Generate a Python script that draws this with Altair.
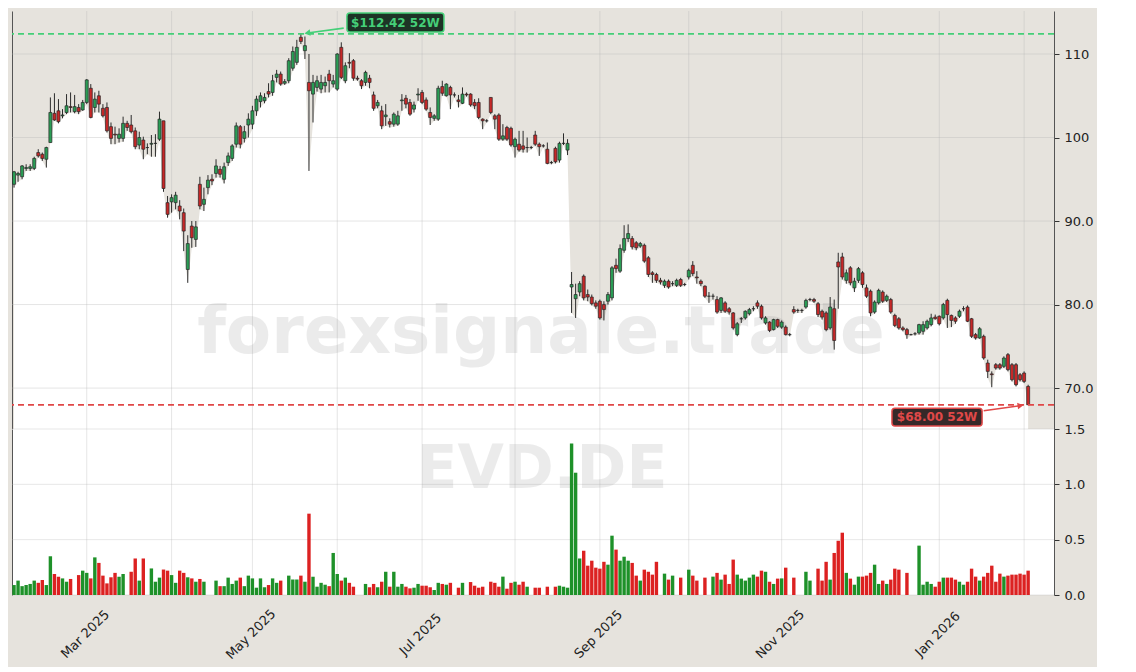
import altair as alt
import pandas as pd

# ---------------- data ----------------
OPEN = [
    94.4, 95.5, 95.3, 96.3, 96.3, 96.3, 98.2, 98.0, 97.4, 99.4,
    102.9, 103.2, 102.6, 103.0, 103.7, 103.1, 103.6, 103.3, 104.2, 105.9,
    103.6, 105.0, 103.5, 103.6, 101.3, 100.4, 99.9, 99.9, 101.7, 101.5,
    100.8, 99.1, 99.7, 98.8, 99.2, 99.3, 99.8, 102.0, 92.2, 92.3,
    92.2, 91.8, 91.0, 84.2, 89.4, 87.8, 94.4, 92.0, 94.0, 95.0,
    95.7, 96.2, 95.0, 97.0, 97.5, 99.2, 101.3, 99.9, 101.5, 101.6,
    103.2, 104.3, 104.4, 105.5, 105.4, 107.2, 107.6, 106.5, 106.8, 108.3,
    109.0, 112.0, 110.4, 106.6, 105.2, 106.0, 105.8, 106.2, 107.6, 106.4,
    105.8, 110.8, 106.8, 109.0, 109.2, 107.1, 106.8, 106.6, 107.1, 105.1,
    103.8, 103.2, 102.5, 101.9, 101.6, 101.6, 104.4, 104.7, 104.2, 103.4,
    105.1, 105.4, 104.5, 103.0, 102.3, 102.2, 106.1, 105.0, 106.0, 105.1,
    104.5, 104.1, 105.2, 105.2, 104.2, 104.2, 102.2, 102.0, 104.8, 102.6,
    102.7, 99.8, 101.2, 101.1, 98.9, 99.2, 99.0, 98.8, 98.8, 100.3,
    99.2, 99.0, 98.6, 97.0, 98.7, 97.3, 99.3, 98.5, 82.1, 80.7,
    81.5, 83.4, 81.2, 80.9, 80.2, 80.4, 80.0, 80.4, 80.8, 84.7,
    84.0, 86.5, 87.9, 87.9, 87.4, 87.0, 87.1, 85.6, 83.8, 83.6,
    82.9, 82.3, 82.8, 82.5, 82.3, 83.0, 82.4, 83.3, 84.7, 83.3,
    82.8, 82.2, 81.0, 81.0, 80.6, 79.3, 80.2, 79.5, 79.0, 76.4,
    78.3, 78.4, 78.9, 79.5, 80.2, 79.8, 77.8, 77.9, 77.0, 78.2,
    77.3, 77.3, 76.4, 79.4, 79.3, 79.3, 79.7, 80.6, 80.6, 80.1,
    79.2, 79.0, 77.2, 79.5, 85.1, 85.7, 82.9, 84.4, 82.0, 82.9,
    83.8, 82.0, 81.6, 79.1, 80.2, 81.5, 80.5, 80.6, 78.7, 78.3,
    77.2, 77.0, 76.4, 76.5, 76.6, 76.8, 77.2, 77.6, 78.5, 78.6,
    78.4, 80.5, 78.7, 78.4, 78.6, 79.5, 79.7, 78.3, 76.4, 76.0,
    76.2, 73.0, 71.7, 72.8, 72.8, 72.6, 74.0, 72.8, 72.8, 71.6,
    71.8, 70.2,
]
HIGH = [
    96.0, 95.9, 96.7, 96.8, 96.8, 97.7, 98.6, 98.2, 98.9, 104.8,
    105.3, 104.6, 103.4, 105.2, 105.4, 105.1, 104.0, 104.5, 107.0, 106.4,
    105.4, 105.6, 104.0, 104.2, 101.8, 101.3, 101.1, 102.5, 102.0, 102.7,
    101.2, 100.7, 100.1, 99.3, 100.3, 100.4, 103.1, 102.0, 93.0, 93.2,
    93.5, 92.5, 91.5, 88.3, 90.0, 90.0, 95.3, 94.0, 95.5, 95.6,
    97.4, 96.6, 97.0, 98.2, 99.2, 101.8, 101.5, 101.4, 102.9, 103.8,
    105.0, 105.4, 105.3, 106.5, 107.5, 108.1, 107.9, 107.0, 109.5, 110.9,
    111.7, 112.42, 112.1, 110.0, 107.5, 107.4, 107.5, 107.3, 108.1, 107.5,
    110.1, 111.4, 109.0, 110.1, 109.4, 107.4, 107.0, 108.0, 107.5, 105.5,
    104.5, 103.8, 104.0, 102.3, 103.0, 103.2, 105.2, 105.1, 104.6, 104.3,
    105.9, 105.7, 104.8, 103.6, 102.8, 106.2, 106.8, 106.5, 106.2, 105.4,
    105.1, 106.0, 105.4, 105.3, 104.6, 104.7, 102.3, 102.2, 104.8, 102.8,
    102.9, 101.6, 101.4, 101.3, 100.0, 100.8, 100.8, 100.0, 99.0, 100.8,
    99.4, 99.2, 99.4, 97.2, 98.9, 99.5, 100.5, 99.8, 83.9, 82.5,
    82.8, 83.6, 81.8, 81.2, 80.5, 80.6, 80.4, 81.5, 84.6, 85.5,
    87.2, 89.5, 89.6, 88.2, 87.6, 87.5, 87.3, 85.8, 84.0, 83.8,
    83.2, 83.0, 83.0, 82.8, 83.1, 83.2, 82.6, 84.3, 85.2, 84.0,
    83.0, 82.3, 81.5, 81.3, 81.0, 80.9, 80.4, 79.7, 79.1, 77.9,
    78.5, 79.3, 79.6, 79.8, 80.5, 80.0, 78.6, 78.0, 78.3, 78.3,
    78.1, 77.5, 76.6, 79.8, 79.5, 79.5, 80.7, 80.8, 80.8, 80.3,
    79.4, 79.2, 80.9, 80.6, 86.2, 86.2, 84.2, 84.6, 83.2, 84.5,
    84.0, 82.4, 81.8, 80.5, 81.9, 81.7, 81.2, 80.8, 78.9, 78.5,
    77.4, 77.2, 76.5, 76.7, 77.7, 78.0, 78.2, 78.9, 78.8, 78.7,
    80.2, 80.7, 78.8, 78.6, 79.4, 79.8, 79.9, 78.4, 76.6, 77.3,
    76.4, 73.4, 72.0, 73.0, 73.0, 73.8, 74.2, 73.0, 73.0, 71.8,
    72.0, 70.4,
]
LOW = [
    94.0, 94.7, 95.0, 96.0, 96.0, 96.1, 97.6, 97.2, 96.4, 99.4,
    102.0, 101.7, 102.3, 102.8, 103.0, 102.9, 102.8, 103.2, 104.0, 102.3,
    103.0, 103.0, 102.4, 100.6, 99.2, 99.2, 99.4, 99.5, 100.8, 100.5,
    98.6, 98.6, 97.4, 98.0, 97.7, 97.7, 99.6, 93.5, 90.4, 91.0,
    91.4, 90.2, 86.4, 82.6, 86.8, 86.9, 91.4, 91.2, 93.2, 94.3,
    95.2, 95.2, 94.5, 96.6, 97.2, 98.8, 98.7, 99.4, 100.0, 101.0,
    102.6, 103.6, 104.1, 104.8, 105.0, 106.6, 106.2, 106.3, 106.5, 108.0,
    108.7, 111.2, 109.4, 96.0, 101.8, 105.5, 105.3, 105.4, 105.4, 106.0,
    105.6, 107.0, 106.5, 108.3, 106.8, 106.8, 105.8, 106.2, 105.9, 103.2,
    103.5, 101.0, 101.4, 101.2, 101.3, 101.4, 103.2, 103.5, 102.6, 103.0,
    104.4, 104.0, 103.2, 101.5, 102.0, 102.0, 105.0, 104.9, 103.4, 104.8,
    103.6, 104.0, 104.9, 103.7, 103.4, 102.2, 101.0, 101.8, 102.8, 101.0,
    99.6, 99.6, 99.6, 98.9, 97.6, 98.3, 98.2, 98.2, 98.6, 99.0,
    97.8, 98.8, 96.8, 96.8, 96.9, 97.0, 99.1, 97.9, 79.0, 78.4,
    81.0, 80.5, 80.4, 79.9, 79.5, 78.2, 78.1, 80.0, 80.5, 83.8,
    83.8, 86.2, 87.5, 86.6, 86.5, 86.8, 85.0, 83.3, 82.6, 82.6,
    82.4, 82.0, 81.9, 82.2, 82.1, 82.1, 82.2, 83.0, 83.4, 82.5,
    82.2, 80.8, 80.2, 80.6, 78.9, 79.0, 79.0, 78.8, 77.0, 76.2,
    77.8, 78.2, 78.7, 79.2, 79.5, 78.2, 77.6, 76.7, 76.9, 77.2,
    77.1, 76.3, 76.2, 78.9, 79.0, 79.0, 79.5, 80.4, 80.2, 78.5,
    78.2, 76.8, 77.0, 74.6, 79.5, 83.0, 82.5, 82.3, 81.5, 82.6,
    82.0, 80.8, 78.6, 78.9, 80.0, 80.2, 80.3, 78.9, 77.3, 77.0,
    76.8, 75.9, 76.3, 76.3, 76.4, 76.4, 77.0, 77.4, 78.2, 77.5,
    78.2, 77.2, 77.3, 77.7, 78.4, 79.2, 77.9, 76.0, 75.8, 75.9,
    73.4, 71.2, 70.1, 72.2, 72.2, 72.4, 72.0, 70.8, 70.2, 70.8,
    70.6, 68.0,
]
CLOSE = [
    95.9, 95.7, 96.6, 96.4, 96.5, 97.5, 97.8, 97.5, 98.8, 103.0,
    102.1, 101.9, 102.7, 103.8, 103.6, 103.7, 103.1, 104.2, 106.9, 102.4,
    104.6, 104.0, 102.6, 100.8, 99.9, 100.3, 100.4, 101.7, 101.2, 100.7,
    98.9, 100.0, 98.6, 98.8, 99.3, 99.3, 102.2, 93.9, 90.8, 92.8,
    93.1, 91.2, 88.8, 87.3, 88.0, 89.3, 91.8, 92.6, 94.9, 94.8,
    96.6, 95.6, 96.5, 97.8, 99.0, 101.4, 99.2, 100.7, 102.2, 103.2,
    104.6, 105.0, 104.8, 105.2, 106.8, 107.6, 106.4, 106.7, 109.2, 110.3,
    110.8, 111.5, 111.0, 105.6, 106.6, 106.8, 106.6, 106.6, 106.8, 106.8,
    110.0, 107.2, 108.6, 108.9, 107.1, 107.0, 106.2, 107.8, 106.6, 103.5,
    104.2, 101.4, 102.7, 101.6, 102.8, 102.6, 104.5, 104.0, 102.8, 103.9,
    105.2, 104.2, 103.4, 102.4, 102.6, 105.9, 105.3, 106.4, 105.1, 105.1,
    104.3, 105.2, 105.1, 103.9, 103.8, 102.4, 102.0, 102.0, 103.0, 102.2,
    99.8, 100.2, 99.8, 99.1, 99.8, 98.5, 98.6, 98.8, 98.8, 99.2,
    98.9, 99.0, 96.9, 97.0, 97.1, 99.3, 99.3, 99.3, 82.4, 81.2,
    82.5, 80.8, 80.9, 80.1, 79.8, 78.4, 79.4, 81.2, 84.4, 84.3,
    86.7, 87.9, 88.5, 86.9, 86.8, 87.3, 85.2, 83.6, 83.6, 82.9,
    82.7, 82.8, 82.1, 82.5, 82.9, 82.3, 82.4, 84.1, 83.7, 83.2,
    82.5, 81.0, 81.0, 81.0, 79.1, 80.8, 79.2, 79.1, 77.2, 77.7,
    78.3, 79.2, 79.4, 79.5, 79.8, 78.4, 78.4, 76.9, 78.2, 77.4,
    77.9, 76.4, 76.4, 79.1, 79.3, 79.3, 80.5, 80.6, 80.4, 78.8,
    78.5, 77.0, 79.7, 75.7, 84.5, 83.3, 83.8, 82.6, 82.8, 84.3,
    82.4, 81.0, 79.0, 80.3, 81.7, 80.4, 81.0, 79.1, 77.5, 77.2,
    77.0, 76.4, 76.4, 76.5, 77.6, 77.6, 78.0, 78.4, 78.3, 77.7,
    80.0, 78.8, 78.1, 78.0, 79.2, 79.5, 78.0, 76.2, 76.0, 77.1,
    73.6, 72.0, 71.6, 72.4, 72.4, 73.6, 72.2, 71.0, 70.4, 71.0,
    70.8, 68.0,
]
VOLUME_M = [
    0.09, 0.13, 0.08, 0.09, 0.10, 0.13, 0.11, 0.135, 0.09, 0.35,
    0.19, 0.165, 0.15, 0.12, 0.145, 0.0, 0.18, 0.22, 0.20, 0.15,
    0.34, 0.29, 0.175, 0.105, 0.16, 0.20, 0.165, 0.19, 0.0, 0.21,
    0.33, 0.13, 0.33, 0.0, 0.24, 0.12, 0.157, 0.23, 0.22, 0.18,
    0.11, 0.22, 0.20, 0.16, 0.15, 0.12, 0.145, 0.12, 0.0, 0.0,
    0.13, 0.08, 0.08, 0.157, 0.10, 0.13, 0.157, 0.08, 0.175, 0.15,
    0.066, 0.15, 0.07, 0.09, 0.15, 0.11, 0.13, 0.0, 0.175, 0.14,
    0.14, 0.175, 0.12, 0.735, 0.165, 0.075, 0.11, 0.093, 0.08, 0.38,
    0.19, 0.13, 0.157, 0.11, 0.075, 0.0, 0.0, 0.10, 0.07, 0.10,
    0.07, 0.12, 0.21, 0.075, 0.21, 0.075, 0.10, 0.075, 0.06, 0.066,
    0.10, 0.084, 0.084, 0.07, 0.045, 0.11, 0.10, 0.093, 0.11, 0.0,
    0.066, 0.11, 0.0, 0.117, 0.084, 0.066, 0.075, 0.0, 0.12, 0.11,
    0.075, 0.166, 0.057, 0.11, 0.12, 0.093, 0.12, 0.075, 0.0, 0.066,
    0.066, 0.0, 0.075, 0.0, 0.075, 0.084, 0.075, 0.066, 1.37, 1.105,
    0.33, 0.40, 0.265, 0.31, 0.247, 0.238, 0.30, 0.274, 0.536, 0.41,
    0.31, 0.346, 0.31, 0.29, 0.175, 0.13, 0.229, 0.21, 0.184, 0.30,
    0.0, 0.193, 0.139, 0.175, 0.0, 0.157, 0.0, 0.229, 0.175, 0.13,
    0.0, 0.157, 0.0, 0.166, 0.20, 0.139, 0.184, 0.10, 0.32, 0.184,
    0.148, 0.13, 0.157, 0.184, 0.166, 0.22, 0.21, 0.12, 0.10, 0.148,
    0.15, 0.247, 0.0, 0.157, 0.0, 0.0, 0.21, 0.13, 0.0, 0.238,
    0.13, 0.30, 0.139, 0.38, 0.49, 0.563, 0.20, 0.148, 0.093, 0.166,
    0.166, 0.175, 0.20, 0.274, 0.10, 0.13, 0.10, 0.139, 0.238, 0.229,
    0.0, 0.20, 0.0, 0.0, 0.446, 0.093, 0.12, 0.10, 0.075, 0.12,
    0.157, 0.157, 0.157, 0.139, 0.12, 0.093, 0.12, 0.238, 0.166, 0.13,
    0.166, 0.20, 0.265, 0.12, 0.193, 0.166, 0.175, 0.184, 0.184, 0.193,
    0.184, 0.22,
]
CLOSED_DAYS = ["2025-04-18", "2025-04-21", "2025-05-01", "2025-12-24",
               "2025-12-25", "2025-12-26", "2025-12-31", "2026-01-01"]
PRICE_TICKS = [70, 80, 90, 100, 110]
VOLUME_TICKS = [0.0, 0.5, 1.0, 1.5]
PRICE_DOMAIN = [65.1, 115.15]
WATERMARK = "forexsignale.trade"
TICKER = "EVD.DE"

# ---------------- styling ----------------
BG = "#e6e3dd"
FRAME = "#555555"
GRID = "#b4b4b4"
C_UP = "#2a9d55"
C_DN = "#c62828"
V_UP = "#1e9129"
V_DN = "#dc2121"
HI_COL = "#45cf78"
LO_COL = "#e04848"
FONT = "DejaVu Sans"

W, PH, VH = 1042, 418, 166

n = len(OPEN)
dates = [d for d in pd.bdate_range("2025-02-05", "2026-02-03")
         if d.strftime("%Y-%m-%d") not in CLOSED_DAYS][:n]
df = pd.DataFrame({"i": list(range(n)), "o": OPEN, "h": HIGH, "l": LOW,
                   "c": CLOSE, "v": VOLUME_M})
df["base"] = PRICE_DOMAIN[0]

month_idx, month_lbl = [], []
for k in range(1, len(dates)):
    if dates[k].month != dates[k - 1].month:
        month_idx.append(k)
        month_lbl.append(dates[k].strftime("%b %Y") if dates[k].month % 2 == 1 else "")
ticks_df = pd.DataFrame({"t": month_idx, "label": month_lbl})
labels_df = ticks_df[ticks_df["label"] != ""]

xs = alt.Scale(domain=[-0.5, 257.4], nice=False, zero=False, padding=0)
ys = alt.Scale(domain=PRICE_DOMAIN, nice=False, zero=False, padding=0)
vs = alt.Scale(domain=[0, 1.5], nice=False, zero=True, padding=0)

up_test = "datum.c >= datum.o"
hi = max(HIGH)
lo = min(LOW)
hi_i = HIGH.index(hi)
lo_i = LOW.index(lo)

# ---------------- price panel ----------------
base = alt.Chart(df)
area = base.mark_area(color="white", interpolate="linear").encode(
    x=alt.X("i:Q", scale=xs, axis=None),
    y=alt.Y("l:Q", scale=ys, axis=None, stack=None),
    y2="base:Q",
)
vgrid_p = alt.Chart(ticks_df).mark_rule(
    color=GRID, strokeWidth=0.8, opacity=0.45).encode(
    x=alt.X("t:Q", scale=xs, axis=alt.Axis(orient="top", labels=False, ticks=False,
                                            grid=False, domainColor=FRAME, title=None)))
hgrid_p = alt.Chart(pd.DataFrame({"p": PRICE_TICKS})).mark_rule(
    color=GRID, strokeWidth=0.8, opacity=0.45).encode(
    y=alt.Y("p:Q", scale=ys, axis=alt.Axis(orient="left", labels=False, ticks=False,
                                            grid=False, domainColor=FRAME, title=None)))
wm1 = alt.Chart(pd.DataFrame({"t": [WATERMARK]})).mark_text(
    font=FONT, fontSize=66, fontWeight="bold", color="#7a7a7a", opacity=0.14,
    baseline="alphabetic", align="center").encode(
    text="t:N", x=alt.value(529), y=alt.value(342))
wick = base.mark_rule(color="#2b2b2b", strokeWidth=1).encode(
    x=alt.X("i:Q", scale=xs, axis=None),
    y=alt.Y("l:Q", scale=ys, axis=None), y2="h:Q")
body = base.mark_bar(size=3, stroke="#262626", strokeWidth=0.7).encode(
    x=alt.X("i:Q", scale=xs, axis=None),
    y=alt.Y("o:Q", scale=ys, stack=None, axis=alt.Axis(
        orient="right", values=PRICE_TICKS, grid=False, title=None,
        labelExpr="datum.value >= 100 ? format(datum.value, 'd') : format(datum.value, '.1f')",
        tickSize=5, tickColor="#333333", domainColor=FRAME, labelFontSize=13,
        labelColor="#222222", labelPadding=5)),
    y2="c:Q",
    color=alt.condition(up_test, alt.value(C_UP), alt.value(C_DN)),
)
hi_line = alt.Chart(pd.DataFrame({"p": [hi]})).mark_rule(
    color=HI_COL, strokeWidth=1.8, strokeDash=[6, 4]).encode(
    y=alt.Y("p:Q", scale=ys, axis=None))
lo_line = alt.Chart(pd.DataFrame({"p": [lo]})).mark_rule(
    color=LO_COL, strokeWidth=1.8, strokeDash=[6, 4]).encode(
    y=alt.Y("p:Q", scale=ys, axis=None))


def annotation(row, col, fill, shape):
    d = pd.DataFrame([row])
    c = alt.Chart(d)
    box = c.mark_rect(fill=fill, stroke=col, strokeWidth=1.5, cornerRadius=3).encode(
        x=alt.X("x0:Q", scale=xs, axis=None), x2="x1:Q",
        y=alt.Y("y0:Q", scale=ys, axis=None), y2="y1:Q")
    txt = c.mark_text(font=FONT, fontSize=12, fontWeight="bold", color=col,
                      align="center", baseline="middle").encode(
        x=alt.X("tx:Q", scale=xs, axis=None), y=alt.Y("ty:Q", scale=ys, axis=None),
        text="label:N")
    arrow = c.mark_rule(color=col, strokeWidth=1.6).encode(
        x=alt.X("ax0:Q", scale=xs, axis=None), x2="ax1:Q",
        y=alt.Y("ay0:Q", scale=ys, axis=None), y2="ay1:Q")
    head = c.mark_point(shape=shape, filled=True, size=45, color=col, opacity=1,
                        angle=351.5).encode(
        x=alt.X("ax1:Q", scale=xs, axis=None), y=alt.Y("ay1:Q", scale=ys, axis=None))
    return [box, txt, arrow, head]


hi_ann = annotation({"x0": hi_i + 11.4, "x1": hi_i + 35.4, "y0": hi + 0.21, "y1": hi + 2.49,
                     "tx": hi_i + 23.4, "ty": hi + 1.35, "label": f"${hi:.2f} 52W",
                     "ax0": hi_i + 10.6, "ay0": hi + 0.68, "ax1": hi_i + 1.6, "ay1": hi + 0.1},
                    HI_COL, "#1d3326", "triangle-left")
lo_ann = annotation({"x0": lo_i - 33.7, "x1": lo_i - 11.4, "y0": lo - 0.42, "y1": lo - 2.55,
                     "tx": lo_i - 22.55, "ty": lo - 1.48, "label": f"${lo:.2f} 52W",
                     "ax0": lo_i - 11.0, "ay0": lo - 0.72, "ax1": lo_i - 1.9, "ay1": lo - 0.1},
                    LO_COL, "#362828", "triangle-right")

price = alt.layer(area, vgrid_p, hgrid_p, wm1, wick, body, hi_line, lo_line,
                  *hi_ann, *lo_ann).properties(width=W, height=PH).resolve_axis(y="independent")

# ---------------- volume panel ----------------
vgrid_v = alt.Chart(ticks_df).mark_rule(
    color=GRID, strokeWidth=0.8, opacity=0.4).encode(
    x=alt.X("t:Q", scale=xs, axis=None))
hgrid_v = alt.Chart(pd.DataFrame({"p": VOLUME_TICKS})).mark_rule(
    color=GRID, strokeWidth=0.8, opacity=0.4).encode(
    y=alt.Y("p:Q", scale=vs, axis=alt.Axis(orient="left", labels=False, ticks=False,
                                            grid=False, domainColor=FRAME, title=None)))
wm2 = alt.Chart(pd.DataFrame({"t": [TICKER]})).mark_text(
    font=FONT, fontSize=60, fontWeight="bold", color="#7a7a7a", opacity=0.14,
    baseline="alphabetic", align="center").encode(
    text="t:N", x=alt.value(530), y=alt.value(59))
vbars = alt.Chart(df).mark_bar(size=3.4).encode(
    x=alt.X("i:Q", scale=xs, axis=alt.Axis(
        orient="bottom", values=month_idx, labels=False, grid=False, title=None,
        tickSize=5, tickColor="#333333", domainColor=FRAME)),
    y=alt.Y("v:Q", scale=vs, stack=None, axis=alt.Axis(
        orient="right", values=VOLUME_TICKS, format=".1f", grid=False, title=None,
        tickSize=5, tickColor="#333333", domainColor=FRAME, labelFontSize=13,
        labelColor="#222222", labelPadding=5)),
    color=alt.condition(up_test, alt.value(V_UP), alt.value(V_DN)),
)
month_text = alt.Chart(labels_df).mark_text(
    font=FONT, fontSize=13, color="#222222", angle=315, align="center",
    baseline="middle", dx=-2).encode(
    x=alt.X("t:Q", scale=xs, axis=None), y=alt.value(VH + 38), text="label:N")

volume = alt.layer(vgrid_v, hgrid_v, wm2, vbars, month_text).properties(
    width=W, height=VH, view=alt.ViewBackground(fill="white", stroke=None)
).resolve_axis(y="independent")

chart = alt.vconcat(price, volume, spacing=0, bounds="flush").properties(
    background=BG,
    padding={"left": 3, "top": 2, "right": 4, "bottom": 4},
).configure_view(stroke=None).configure_axis(labelFont=FONT, titleFont=FONT)

chart.save("out.html", embed_options={"renderer": "svg", "actions": False})
